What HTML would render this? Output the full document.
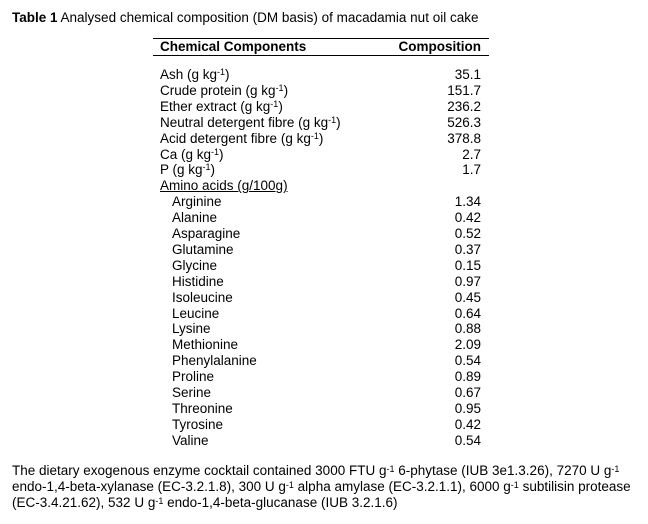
<!DOCTYPE html>
<html><head><meta charset="utf-8"><style>
body{margin:0;width:648px;height:524px;background:#fff;font-family:"Liberation Sans",Arial,sans-serif;font-size:13.5px;color:#000;position:relative;overflow:hidden}
.a{position:absolute;white-space:nowrap;line-height:15px}
.r{position:absolute;right:167px;white-space:nowrap;line-height:15px;text-align:right}
sup{font-size:9px;vertical-align:top;position:relative;top:-2px}
.ln{position:absolute;left:153px;width:336px;height:1px;background:#000}
</style></head><body>
<div class="a" style="left:12px;top:10px"><b>Table 1</b> Analysed chemical composition (DM basis) of macadamia nut oil cake</div>
<div class="ln" style="top:38px"></div>
<div class="a" style="left:160px;top:39px;font-weight:bold">Chemical Components</div>
<div class="r" style="top:39px;font-weight:bold">Composition</div>
<div class="ln" style="top:55px"></div>
<div id="rows"></div>
<div class="a" style="left:12px;top:463px;line-height:16px">The dietary exogenous enzyme cocktail contained 3000 FTU g<sup>-1</sup> 6-phytase (IUB 3e1.3.26), 7270 U g<sup>-1</sup><br>endo-1,4-beta-xylanase (EC-3.2.1.8), 300 U g<sup>-1</sup> alpha amylase (EC-3.2.1.1), 6000 g<sup>-1</sup> subtilisin protease<br>(EC-3.4.21.62), 532 U g<sup>-1</sup> endo-1,4-beta-glucanase (IUB 3.2.1.6)</div>
<script>
const names=["Ash (g kg<sup>-1</sup>)","Crude protein (g kg<sup>-1</sup>)","Ether extract (g kg<sup>-1</sup>)","Neutral detergent fibre (g kg<sup>-1</sup>)","Acid detergent fibre (g kg<sup>-1</sup>)","Ca (g kg<sup>-1</sup>)","P (g kg<sup>-1</sup>)","<u>Amino acids (g/100g)</u>","Arginine","Alanine","Asparagine","Glutamine","Glycine","Histidine","Isoleucine","Leucine","Lysine","Methionine","Phenylalanine","Proline","Serine","Threonine","Tyrosine","Valine"];
const values=["35.1","151.7","236.2","526.3","378.8","2.7","1.7","","1.34","0.42","0.52","0.37","0.15","0.97","0.45","0.64","0.88","2.09","0.54","0.89","0.67","0.95","0.42","0.54"];
const c=document.getElementById('rows');
names.forEach((n,i)=>{
 const y=67+i*15.9;
 const d=document.createElement('div');d.className='a';
 d.style.left=(i>7?172:160)+'px';d.style.top=y+'px';d.innerHTML=n;
 
 
 c.appendChild(d);
 if(values[i]){const v=document.createElement('div');v.className='r';v.style.top=y+'px';v.textContent=values[i];
 
 
 c.appendChild(v);}
});
</script>
</body></html>
